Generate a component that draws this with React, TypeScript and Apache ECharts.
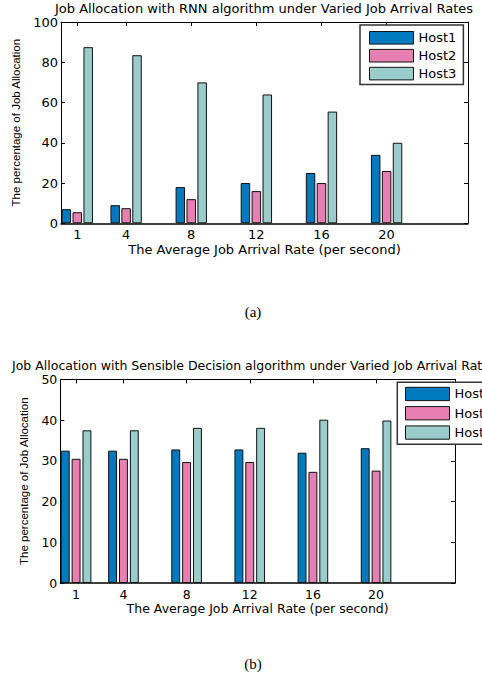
import React, { useEffect, useRef } from "react";
import * as echarts from "echarts";

const xValues = [1, 4, 8, 12, 16, 20];
const hostNames = ["Host1", "Host2", "Host3"];
const rnnHost1 = [7, 9, 18, 20, 25, 34];
const rnnHost2 = [5.5, 7.5, 12, 16, 20, 26];
const rnnHost3 = [87.5, 83.5, 70, 64, 55.5, 40];
const sdHost1 = [32.5, 32.5, 32.8, 32.8, 32, 33.1];
const sdHost2 = [30.5, 30.5, 29.7, 29.7, 27.3, 27.6];
const sdHost3 = [37.5, 37.5, 38.1, 38.1, 40.1, 39.9];

const titleA = "Job Allocation with RNN algorithm under Varied Job Arrival Rates";
const titleB = "Job Allocation with Sensible Decision algorithm under Varied Job Arrival Rates";
const xName = "The Average Job Arrival Rate (per second)";
const yName = "The percentage of Job Allocation";

const colors = ["#0079BF", "#E680B3", "#99CCCB"];
const SANS = "DejaVu Sans";

function xAxes(gridIndex: number, fontSize: number, nameGap: number) {
  const tick = { show: true, inside: true, length: 4, customValues: xValues, lineStyle: { color: "#000", width: 1 } };
  return [
    {
      type: "value", gridIndex, position: "bottom", min: 0, max: 25,
      axisLine: { show: true, onZero: false, lineStyle: { color: "#000", width: 1.5 } },
      axisTick: tick,
      axisLabel: { show: true, customValues: xValues, color: "#000", fontFamily: SANS, fontSize, margin: 5 },
      splitLine: { show: false },
      name: xName, nameLocation: "middle", nameGap,
      nameTextStyle: { color: "#000", fontFamily: SANS, fontSize },
    },
    {
      type: "value", gridIndex, position: "top", min: 0, max: 25,
      axisLine: { show: true, onZero: false, lineStyle: { color: "#000", width: 1 } },
      axisTick: tick,
      axisLabel: { show: false },
      splitLine: { show: false },
    },
  ];
}

function yAxes(gridIndex: number, max: number, interval: number, fontSize: number, nameGap: number) {
  const tick = { show: true, inside: true, length: 4, lineStyle: { color: "#000", width: 1 } };
  return [
    {
      type: "value", gridIndex, position: "left", min: 0, max, interval,
      axisLine: { show: true, onZero: false, lineStyle: { color: "#000", width: 1 } },
      axisTick: tick,
      axisLabel: { color: "#000", fontFamily: SANS, fontSize, margin: 3 },
      splitLine: { show: false },
      name: yName, nameLocation: "middle", nameGap,
      nameTextStyle: { color: "#000", fontFamily: "Liberation Sans", fontSize: 11.5 },
    },
    {
      type: "value", gridIndex, position: "right", min: 0, max, interval,
      axisLine: { show: true, onZero: false, lineStyle: { color: "#000", width: 1 } },
      axisTick: tick,
      axisLabel: { show: false },
      splitLine: { show: false },
    },
  ];
}

function barSeries(values: number[][], xAxisIndex: number, yAxisIndex: number, barWidth: number, barGap: string) {
  return values.map((vals, k) => ({
    type: "bar",
    name: hostNames[k],
    xAxisIndex,
    yAxisIndex,
    barWidth,
    barGap,
    data: xValues.map((x, i) => [x, vals[i]]),
    itemStyle: { color: colors[k], borderColor: "#111", borderWidth: 1 },
  }));
}

export default function App() {
  const ref = useRef<HTMLDivElement>(null);
  useEffect(() => {
    if (!ref.current) return;
    const chart = echarts.init(ref.current, null, { renderer: "svg" });
    chart.setOption({
      animation: false,
      backgroundColor: "#fff",
      grid: [
        { left: 61, top: 22, width: 407, height: 201.3 },
        { left: 60.3, top: 379.4, width: 394.7, height: 203.6 },
      ],
      xAxis: [...xAxes(0, 13, 20), ...xAxes(1, 12.5, 19)],
      yAxis: [...yAxes(0, 100, 20, 13, 37), ...yAxes(1, 50, 10, 12.5, 27)],
      legend: [
        {
          data: hostNames, orient: "vertical", left: 360, top: 25, icon: "rect",
          itemWidth: 44, itemHeight: 12.6, itemGap: 4.3, padding: [6, 7, 4, 9],
          borderColor: "#333", borderWidth: 1.5, backgroundColor: "#fff",
          itemStyle: { borderColor: "#111", borderWidth: 1 },
          textStyle: { color: "#000", fontFamily: SANS, fontSize: 13 },
          selectedMode: false,
        },
        {
          data: hostNames, orient: "vertical", left: 397.3, top: 382.3, icon: "rect",
          itemWidth: 44, itemHeight: 13.3, itemGap: 5, padding: [4.5, 7, 4.5, 7.7],
          borderColor: "#333", borderWidth: 1.5, backgroundColor: "#fff",
          itemStyle: { borderColor: "#111", borderWidth: 1 },
          textStyle: { color: "#000", fontFamily: SANS, fontSize: 13 },
          selectedMode: false,
        },
      ],
      graphic: [
        { type: "text", x: 264, y: 8.5, style: { text: titleA, fontFamily: SANS, fontSize: 13, fill: "#000", textAlign: "center", textVerticalAlign: "middle", align: "center", verticalAlign: "middle" } },
        { type: "text", x: 12, y: 365, style: { text: titleB, fontFamily: SANS, fontSize: 12.5, fill: "#000", textAlign: "left", textVerticalAlign: "middle", align: "left", verticalAlign: "middle" } },
        { type: "text", x: 253, y: 312, style: { text: "(a)", fontFamily: "Liberation Serif", fontSize: 15, fill: "#000", textAlign: "center", textVerticalAlign: "middle", align: "center", verticalAlign: "middle" } },
        { type: "text", x: 253, y: 664, style: { text: "(b)", fontFamily: "Liberation Serif", fontSize: 15, fill: "#000", textAlign: "center", textVerticalAlign: "middle", align: "center", verticalAlign: "middle" } },
      ],
      series: [
        ...barSeries([rnnHost1, rnnHost2, rnnHost3], 0, 0, 9.5, "15%"),
        ...barSeries([sdHost1, sdHost2, sdHost3], 2, 2, 8.9, "22%"),
      ],
    });
    return () => chart.dispose();
  }, []);
  return <div ref={ref} style={{ position: "absolute", left: 0, top: 0, width: 482, height: 680 }} />;
}
